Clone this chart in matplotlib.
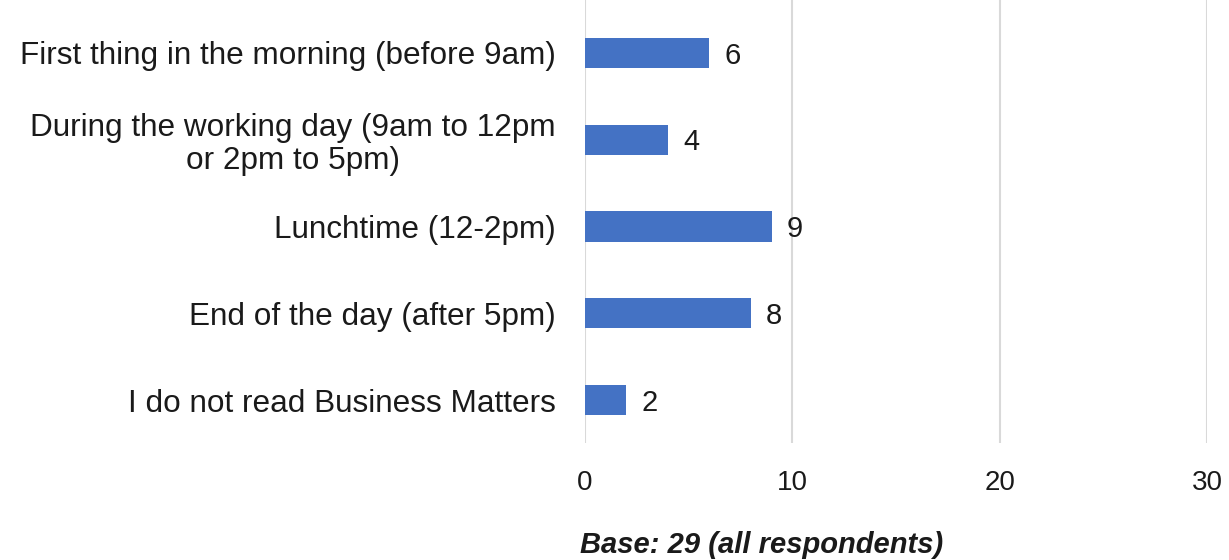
import matplotlib
matplotlib.use("Agg")
import matplotlib.pyplot as plt

categories = [
    "First thing in the morning (before 9am)",
    "During the working day (9am to 12pm\nor 2pm to 5pm)",
    "Lunchtime (12-2pm)",
    "End of the day (after 5pm)",
    "I do not read Business Matters",
]
values = [6, 4, 9, 8, 2]
x_ticks = [0, 10, 20, 30]
base_note = "Base: 29 (all respondents)"

plt.rcParams["font.family"] = ["Liberation Sans", "DejaVu Sans"]

fig = plt.figure(figsize=(12.29, 5.6), dpi=100)
ax = fig.add_axes([585 / 1229, 116.6 / 560, (1207 - 585) / 1229, 443.4 / 560])

ypos = list(range(len(categories)))
ax.barh(ypos, values, height=0.35, color="#4472C4", zorder=3)

for y, v in zip(ypos, values):
    ax.annotate(str(v), xy=(v, y), xytext=(11, -2), textcoords="offset points",
                va="center", ha="left", fontsize=21, color="#1a1a1a")

ax.set_xlim(0, 30)
ax.set_ylim(4.5, -0.61)
ax.set_xticks(x_ticks)
ax.set_yticks(ypos)
ax.set_yticklabels(categories, multialignment="center", linespacing=1.12)
ax.tick_params(axis="y", length=0, pad=21, labelsize=22.7, labelcolor="#1a1a1a")
ax.tick_params(axis="x", length=0, pad=19, labelsize=20, labelcolor="#1a1a1a")
ax.xaxis.grid(True, color="#D9D9D9", linewidth=1.5, zorder=0)
ax.set_axisbelow(True)
for s in ax.spines.values():
    s.set_visible(False)

fig.text(762 / 1229, 1 - 545 / 560, base_note, ha="center", va="center",
         fontsize=21, fontweight="bold", fontstyle="italic", color="#1a1a1a")

fig.savefig("out.png", dpi=100)
